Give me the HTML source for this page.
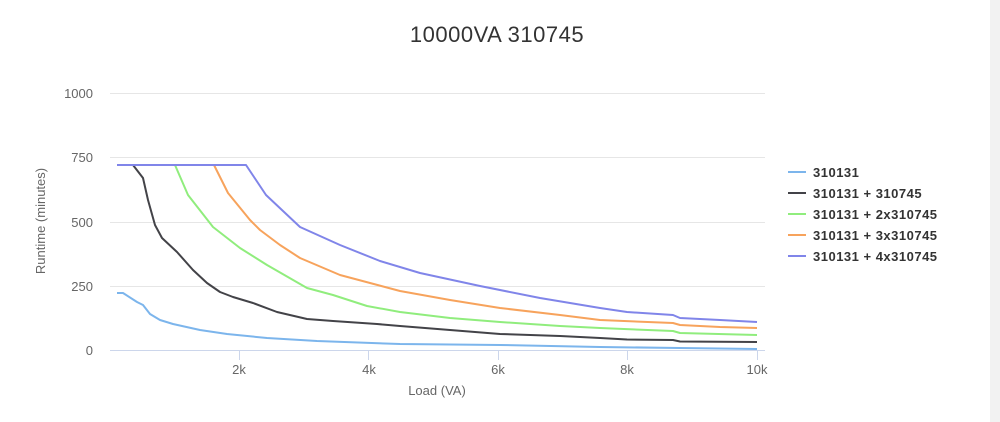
<!DOCTYPE html>
<html><head><meta charset="utf-8"><style>
html,body{margin:0;padding:0;background:#fff;}
svg{display:block;font-family:"Liberation Sans","DejaVu Sans",sans-serif;}
</style></head><body>
<svg width="1000" height="422" viewBox="0 0 1000 422">
<rect x="0" y="0" width="1000" height="422" fill="#fff"/>
<rect x="990" y="0" width="10" height="422" fill="#f2f2f2"/>
<text x="497" y="42" text-anchor="middle" font-size="22" fill="#333" letter-spacing="0.5">10000VA 310745</text>
<g stroke="#e6e6e6" stroke-width="1">
<line x1="110" y1="93.5" x2="765" y2="93.5"/>
<line x1="110" y1="157.5" x2="765" y2="157.5"/>
<line x1="110" y1="222.5" x2="765" y2="222.5"/>
<line x1="110" y1="286.5" x2="765" y2="286.5"/>
</g>
<line x1="110" y1="350.5" x2="765" y2="350.5" stroke="#ccd6eb"/>
<g stroke="#ccd6eb"><line x1="239.5" y1="350" x2="239.5" y2="360"/><line x1="368.5" y1="350" x2="368.5" y2="360"/><line x1="498.5" y1="350" x2="498.5" y2="360"/><line x1="627.5" y1="350" x2="627.5" y2="360"/><line x1="757.5" y1="350" x2="757.5" y2="360"/></g>
<g font-size="13" fill="#666" text-anchor="end">
<text x="93" y="98">1000</text><text x="93" y="162">750</text><text x="93" y="227">500</text><text x="93" y="291">250</text><text x="93" y="355">0</text>
</g>
<g font-size="13" fill="#666" text-anchor="middle">
<text x="239" y="374">2k</text><text x="369" y="374">4k</text><text x="498" y="374">6k</text><text x="627" y="374">8k</text><text x="757" y="374">10k</text>
</g>
<text x="437" y="395" text-anchor="middle" font-size="13" fill="#666">Load (VA)</text>
<text transform="translate(45,221) rotate(-90)" text-anchor="middle" font-size="13" fill="#666">Runtime (minutes)</text>
<g fill="none" stroke-width="2" stroke-linejoin="round">
<polyline stroke="#7cb5ec" points="117,293 123,293 137,302 143,305 150,314 160,320 173,324 200,330 227,334 267,338 317,341 400,344 500,345 600,347 680,348 757,349"/>
<polyline stroke="#434348" points="117,165 133,165 143,178 148,200 155,225 162,238 177,252 193,270 207,283 220,292 233,297 253,303 277,312 307,319 333,321 377,324 400,326 450,330 500,334 560,336 600,338 627,339.5 673,340 680,341.5 757,342"/>
<polyline stroke="#90ed7d" points="117,165 175,165 188,195 213,227 240,248 267,265 307,288 333,295 367,306 400,312 450,318 500,322 560,326 600,328 673,331 680,333 757,335"/>
<polyline stroke="#f7a35c" points="117,165 214,165 228,193 250,220 260,230 280,245 300,258 340,275 400,291 450,300 500,308 560,315 600,320 673,323 680,325 720,327 757,328"/>
<polyline stroke="#8085e9" points="117,165 246,165 256,180 266,195 300,227 340,245 380,261 420,273 480,286 540,298 600,308 627,312 673,315 680,318 720,320 757,322"/>
</g>
<g stroke-width="2">
<line x1="788" y1="172" x2="806" y2="172" stroke="#7cb5ec"/>
<line x1="788" y1="193" x2="806" y2="193" stroke="#434348"/>
<line x1="788" y1="214" x2="806" y2="214" stroke="#90ed7d"/>
<line x1="788" y1="235" x2="806" y2="235" stroke="#f7a35c"/>
<line x1="788" y1="256" x2="806" y2="256" stroke="#8085e9"/>
</g>
<g font-size="13" fill="#333" font-weight="bold" letter-spacing="0.5">
<text x="813" y="177">310131</text>
<text x="813" y="198">310131 + 310745</text>
<text x="813" y="219">310131 + 2x310745</text>
<text x="813" y="240">310131 + 3x310745</text>
<text x="813" y="261">310131 + 4x310745</text>
</g>
</svg>
</body></html>
